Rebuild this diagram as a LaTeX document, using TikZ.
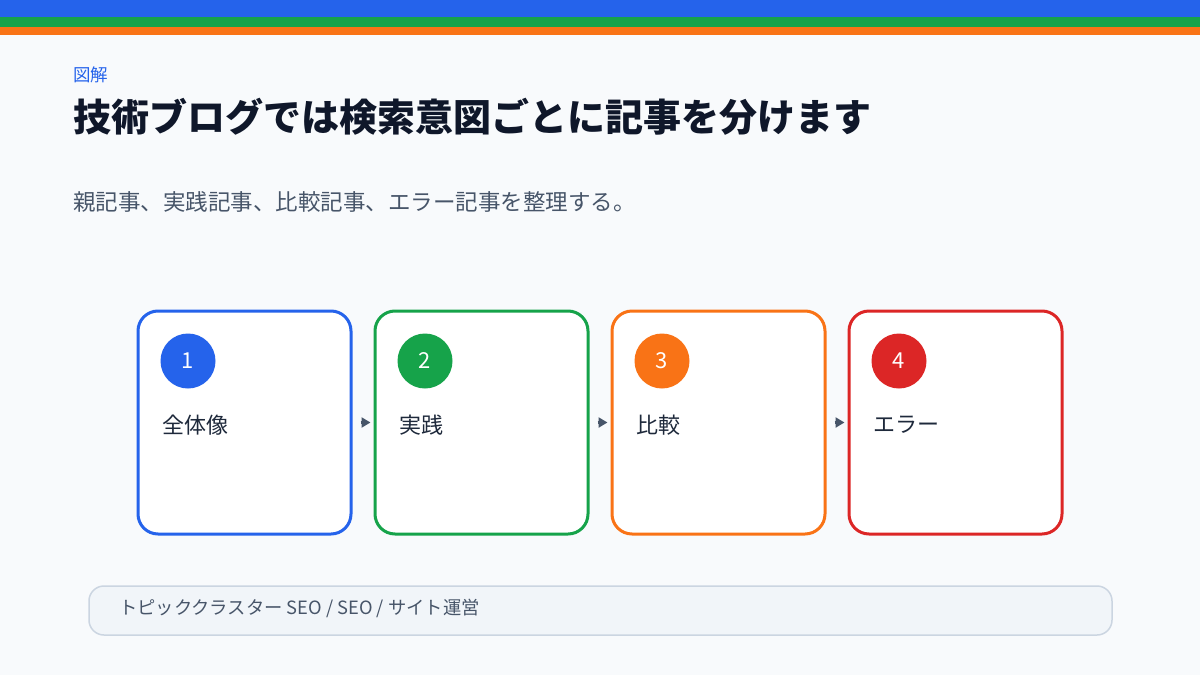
\documentclass[tikz,border=0pt]{standalone}
\usepackage{fontspec}
\setmainfont{Noto Sans CJK JP}
\usetikzlibrary{arrows.meta}
\definecolor{bg}{HTML}{F8FAFC}
\definecolor{cblue}{HTML}{2563EB}
\definecolor{cgreen}{HTML}{16A34A}
\definecolor{corange}{HTML}{F97316}
\definecolor{cred}{HTML}{DC2626}
\definecolor{ctitle}{HTML}{0F172A}
\definecolor{csub}{HTML}{475569}
\definecolor{cbarfill}{HTML}{F1F5F9}
\definecolor{cbarline}{HTML}{CBD5E1}
\definecolor{clabel}{HTML}{1E293B}
\begin{document}
\begin{tikzpicture}[x=1pt,y=-1pt,
  stepbox/.style={draw=#1,line width=3pt,fill=white,rounded corners=20pt,minimum width=213pt,minimum height=223pt,inner sep=0pt},
  numdot/.style={circle,fill=#1,minimum size=55pt,inner sep=0pt,text=white,font=\fontsize{22}{24}\selectfont\addfontfeatures{FakeBold=0}},
  steplabel/.style={anchor=west,inner sep=0pt,text=clabel,font=\fontsize{22}{24}\selectfont},
  arr/.style={draw=csub,line width=3pt,-{Triangle[length=9pt,width=10pt]},shorten <=8pt,shorten >=3pt}]
\useasboundingbox (0,0) rectangle (1200,675);
\fill[bg] (0,0) rectangle (1200,675);
\fill[cblue] (0,0) rectangle (1200,17.3);
\fill[cgreen] (0,17.3) rectangle (1200,27);
\fill[corange] (0,27) rectangle (1200,35);
\node[anchor=west,inner sep=0pt,text=cblue,font=\fontsize{17.5}{19}\selectfont] (kicker) at (73,75) {図解};
\node[anchor=west,inner sep=0pt,text=ctitle,font=\fontsize{38}{42}\selectfont\bfseries] (title) at (73,117) {技術ブログでは検索意図ごとに記事を分けます};
\node[anchor=west,inner sep=0pt,text=csub,font=\fontsize{22.5}{25}\selectfont] (sub) at (73,202) {親記事、実践記事、比較記事、エラー記事を整理する。};
\foreach \i/\x/\c/\t in {1/244.5/cblue/全体像,2/481.5/cgreen/実践,3/718.5/corange/比較,4/955.5/cred/エラー}{
  \node[stepbox=\c] (b\i) at (\x,422.5) {};
  \node[numdot=\c] (n\i) at (\x-56.5,361) {\i};
  \node[steplabel] (l\i) at (\x-82.5,425) {\t};
}
\draw[arr] (b1.east) -- (b2.west);
\draw[arr] (b2.east) -- (b3.west);
\draw[arr] (b3.east) -- (b4.west);
\node[draw=cbarline,fill=cbarfill,line width=1.5pt,rounded corners=15pt,minimum width=1023pt,minimum height=49pt,inner sep=0pt] (bar) at (600.5,610.5) {};
\node[anchor=west,inner sep=0pt,text=csub,font=\fontsize{18.3}{20}\selectfont] (bartext) at (119,608) {トピッククラスター SEO / SEO / サイト運営};
\end{tikzpicture}
\end{document}
